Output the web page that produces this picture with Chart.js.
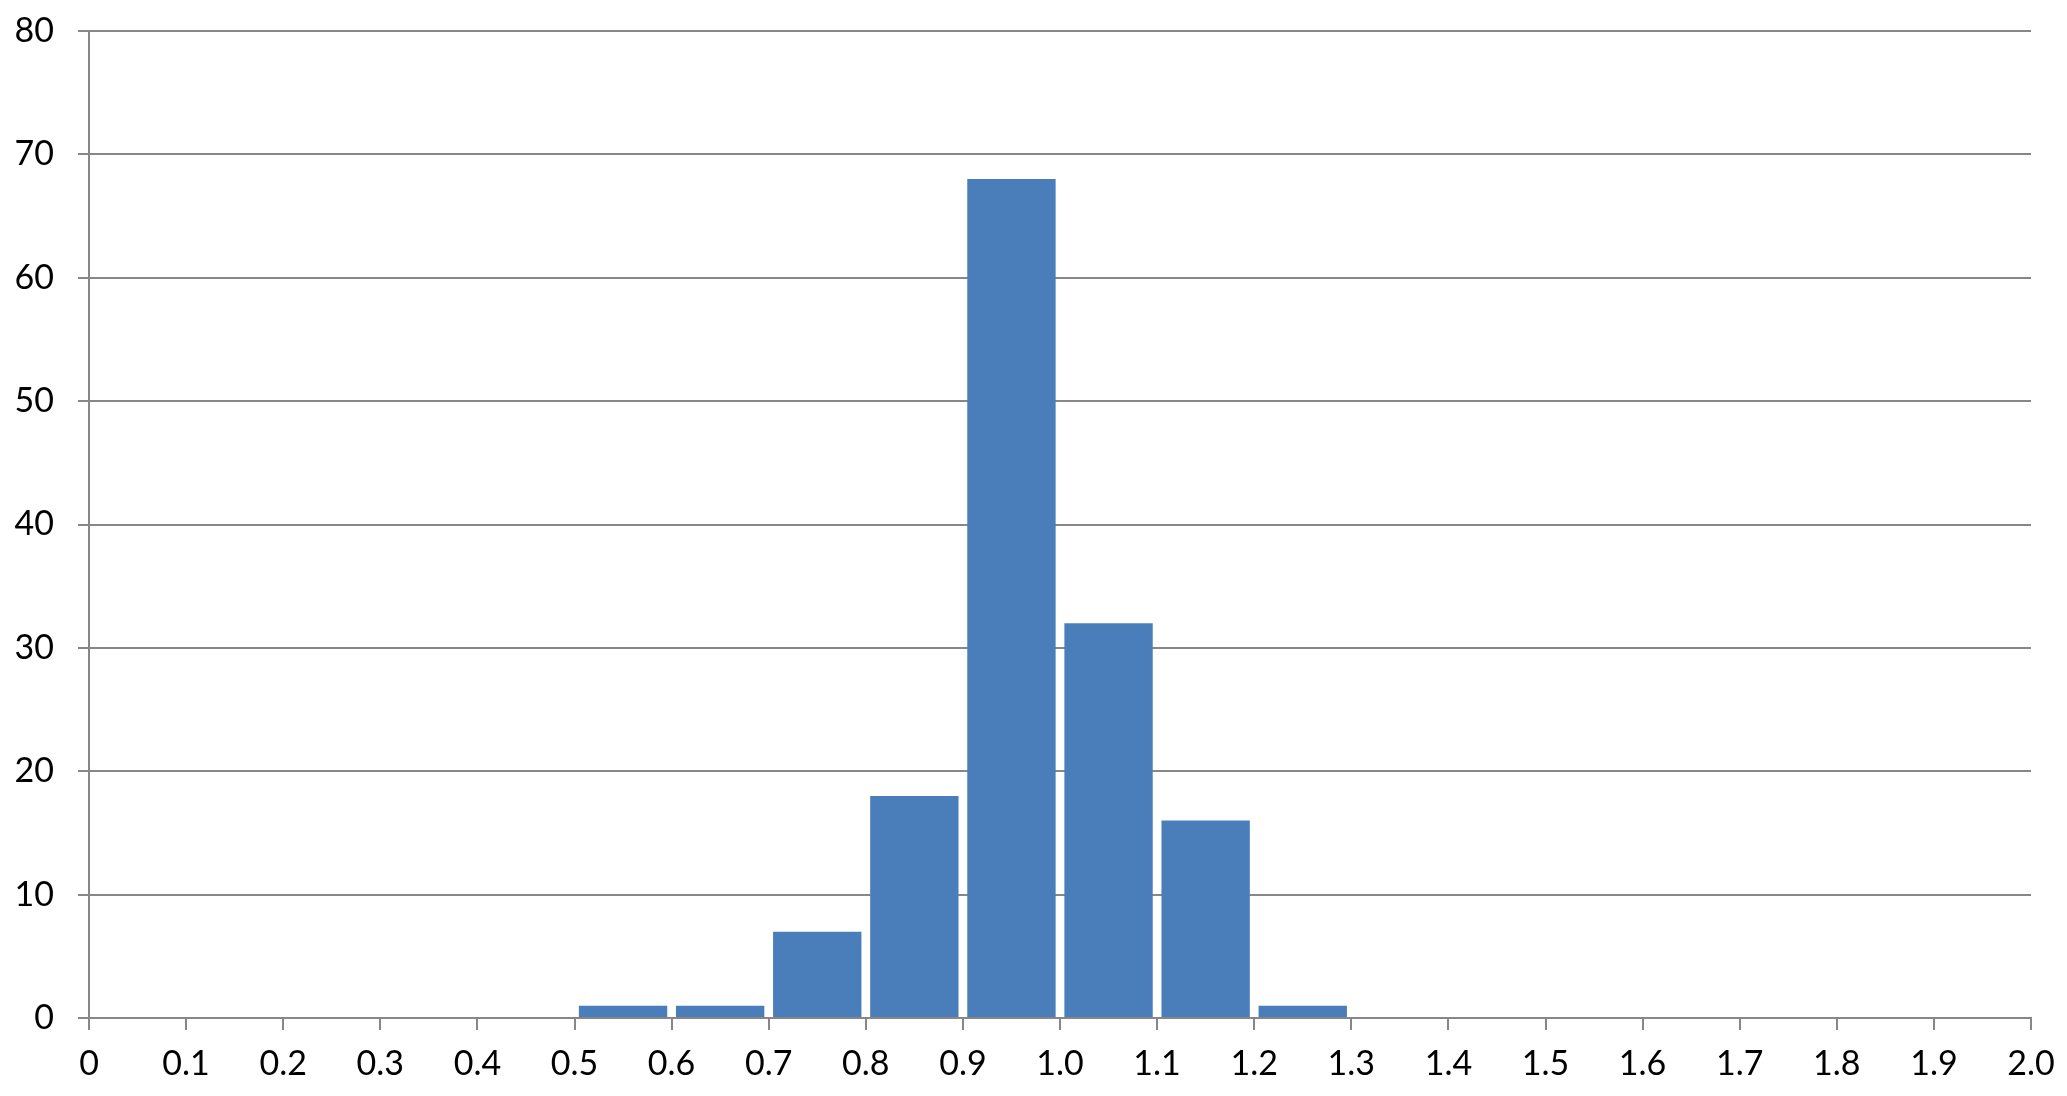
<!DOCTYPE html>
<html>
<head>
<meta charset="utf-8">
<script src="https://cdn.jsdelivr.net/npm/chart.js@4/dist/chart.umd.min.js"></script>
<style>
  html, body { margin: 0; padding: 0; background: #fff; }
  #hist { display: block; }
</style>
</head>
<body>
<canvas id="hist" width="2067" height="1096"></canvas>
<script>
// histogram bins (centre of each 0.1-wide bin) and counts
const binCentres = [0.05, 0.15, 0.25, 0.35, 0.45, 0.55, 0.65, 0.75, 0.85, 0.95,
                    1.05, 1.15, 1.25, 1.35, 1.45, 1.55, 1.65, 1.75, 1.85, 1.95];
const counts = [0, 0, 0, 0, 0, 1, 1, 7, 18, 68,
                32, 16, 1, 0, 0, 0, 0, 0, 0, 0];
const xTicks = [0, 0.1, 0.2, 0.3, 0.4, 0.5, 0.6, 0.7, 0.8, 0.9, 1.0,
                1.1, 1.2, 1.3, 1.4, 1.5, 1.6, 1.7, 1.8, 1.9, 2.0];
const yTicks = [0, 10, 20, 30, 40, 50, 60, 70, 80];

const gridGrey = '#878787';
const barBlue = '#4A7EBB';
const tickFont = { family: 'Lato', size: 34 };

function initHistogram() {
    const ctx = document.getElementById('hist').getContext('2d');
    new Chart(ctx, {
        type: 'bar',
        data: {
            datasets: [{
                data: binCentres.map((x, i) => ({ x: x, y: counts[i] })),
                backgroundColor: barBlue,
                borderWidth: 0,
                barPercentage: 0.91,
                categoryPercentage: 1.0
            }]
        },
        options: {
            responsive: false,
            animation: false,
            layout: { padding: { top: 31, right: 36, left: 0, bottom: 0 } },
            plugins: { legend: { display: false }, tooltip: { enabled: false } },
            scales: {
                x: {
                    type: 'linear',
                    offset: false,
                    min: xTicks[0],
                    max: xTicks[xTicks.length - 1],
                    afterBuildTicks: (scale) => {
                        scale.ticks = xTicks.map(v => ({ value: v }));
                    },
                    afterFit: (scale) => {
                        scale.height = 78;
                        scale.paddingLeft = 0;
                        scale.paddingRight = 0;
                    },
                    grid: {
                        offset: false,
                        drawOnChartArea: false,
                        drawTicks: true,
                        tickLength: 12,
                        color: gridGrey,
                        lineWidth: 2
                    },
                    border: { color: gridGrey, width: 2 },
                    ticks: {
                        autoSkip: false,
                        maxRotation: 0,
                        padding: 14,
                        color: '#000',
                        font: tickFont,
                        callback: (v) => v === 0 ? '0' : Number(v).toFixed(1)
                    }
                },
                y: {
                    min: yTicks[0],
                    max: yTicks[yTicks.length - 1],
                    afterBuildTicks: (scale) => {
                        scale.ticks = yTicks.map(v => ({ value: v }));
                    },
                    afterFit: (scale) => {
                        scale.width = 89;
                        scale.paddingTop = 0;
                        scale.paddingBottom = 0;
                    },
                    grid: {
                        drawTicks: true,
                        tickLength: 11,
                        color: gridGrey,
                        lineWidth: 2
                    },
                    border: { color: gridGrey, width: 2 },
                    ticks: {
                        padding: 24,
                        color: '#000',
                        font: tickFont
                    }
                }
            }
        }
    });
}

document.addEventListener('DOMContentLoaded', initHistogram);
</script>
</body>
</html>
